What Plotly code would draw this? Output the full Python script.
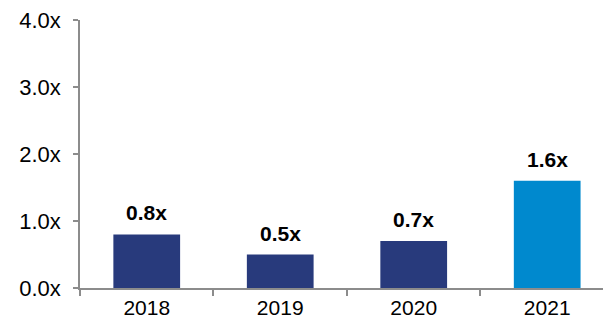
import plotly.graph_objects as go

# Multiple by year
years = ["2018", "2019", "2020", "2021"]
multiples = [0.8, 0.5, 0.7, 1.6]
bar_colors = ["#283A7C", "#283A7C", "#283A7C", "#0089CE"]
y_ticks = [0, 1, 2, 3, 4]
y_tick_labels = ["0.0x", "1.0x", "2.0x", "3.0x", "4.0x"]

axis_gray = "#8C8C8C"
font_family = "Liberation Sans"

fig = go.Figure()
fig.add_trace(go.Bar(
    x=years,
    y=multiples,
    marker=dict(color=bar_colors, line=dict(width=0)),
    width=0.5,
    hoverinfo="skip",
))

for i, v in enumerate(multiples):
    fig.add_annotation(
        xref="x", yref="y",
        x=i, y=v, text=f"<b>{v:.1f}x</b>",
        showarrow=False, yanchor="bottom", yshift=8,
        font=dict(family=font_family, size=21, color="#000000"),
    )

fig.update_layout(
    width=603, height=323,
    margin=dict(l=80, r=0, t=20, b=35),
    paper_bgcolor="white", plot_bgcolor="white",
    showlegend=False,
    font=dict(family=font_family),
)
fig.update_xaxes(
    type="category",
    range=[-0.5, 3.418],
    showline=True, linecolor=axis_gray, linewidth=1.5,
    ticks="outside", tickson="boundaries", ticklen=6, tickcolor=axis_gray, tickwidth=1.5,
    tickfont=dict(family=font_family, size=21, color="#000000"),
    showgrid=False, zeroline=False,
)
fig.update_yaxes(
    range=[0, 4],
    tickvals=y_ticks, ticktext=y_tick_labels,
    showline=True, linecolor=axis_gray, linewidth=1.5,
    ticks="outside", ticklen=5, tickcolor=axis_gray, tickwidth=1.5,
    tickfont=dict(family=font_family, size=22, color="#000000"),
    ticklabelstandoff=8,
    showgrid=False, zeroline=False,
)

fig.write_html("out.html")
